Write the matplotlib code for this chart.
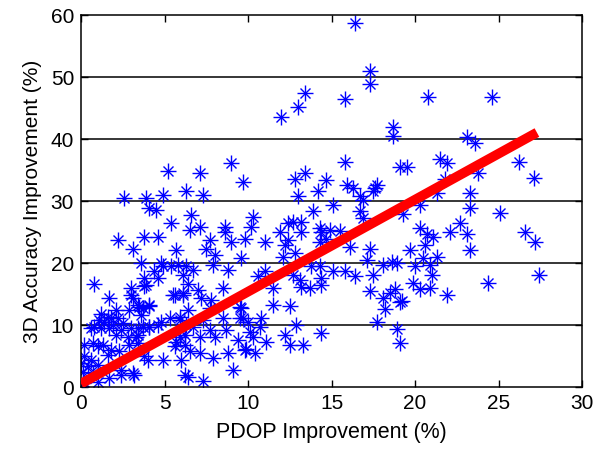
import matplotlib
matplotlib.use('Agg')
from matplotlib import pyplot as plt
import numpy as np

plt.rcParams['font.family'] = ['Liberation Sans', 'DejaVu Sans']

# PDOP improvement (%) vs 3D accuracy improvement (%)
pdop = [
    13.4, 13.0, 12.0, 5.2, 7.1, 9.0, 9.7, 12.8, 13.4, 2.6, 3.9, 4.9, 6.3, 7.3, 13.0, 14.2, 14.7,
    16.4, 17.3, 17.3, 15.8, 20.8, 18.7, 18.7, 23.1, 23.6, 15.8, 21.5, 21.9, 19.1, 19.5, 15.9,
    16.3, 17.6, 17.7, 17.5, 23.8, 23.3, 16.7, 21.8, 24.6,
    26.2, 27.1, 25.1, 26.6, 27.2, 24.4, 27.4,
    21.3, 23.3, 20.3, 19.3, 20.3, 20.7, 21.1, 20.6, 22.1, 22.7, 23.1, 23.3, 19.7, 20.5, 21.3,
    20.0, 20.9, 21.0, 19.9, 20.3, 20.9, 21.9, 19.2,
    15.1, 16.9, 16.7, 16.9, 14.4, 14.9, 15.5, 14.7, 16.1, 17.3, 17.1, 18.1, 18.6, 18.9, 15.1,
    15.8, 16.4, 17.5, 14.4, 14.4, 17.3, 18.5, 18.8, 18.1, 19.1, 18.2, 17.7, 18.9, 19.1, 14.4,
    10.3, 10.2, 9.8, 11.0, 11.9, 12.4, 12.4, 12.7, 13.2, 13.9, 13.2, 14.3, 14.3, 9.6, 12.1,
    12.8, 12.2, 11.0, 10.6, 11.5, 13.1, 13.2, 13.7, 12.7, 13.8, 14.3, 11.5, 12.5, 9.6, 9.7,
    10.0, 10.8, 10.7, 10.1, 10.3, 12.9, 12.2, 11.1, 12.5, 13.3, 9.9, 10.4,
    6.6, 5.4, 6.5, 7.1, 8.6, 8.6, 7.7, 9.0, 5.7, 7.5, 8.0, 4.9, 5.4, 5.8, 6.3, 6.7, 6.1,
    7.9, 8.8, 6.4, 8.5, 5.6, 6.1, 7.0, 7.2, 7.8, 7.7, 9.5, 6.4, 5.9, 5.3, 4.8, 7.3, 8.5,
    9.5, 6.7, 7.7, 8.7, 5.9, 7.1, 8.0, 9.4, 6.2, 5.6, 6.5, 7.1, 7.9, 8.8, 9.8, 4.9, 6.0,
    9.1, 6.4, 7.3,
    4.1, 4.5, 2.2, 3.1, 3.8, 4.6, 3.6, 4.8, 4.4, 4.6, 3.8, 3.9, 0.8, 3.5, 4.1,
    3.7, 4.1, 4.6, 3.4, 3.4, 4.0, 0.1, 1.0, 3.2, 2.4,
    1.7, 3.0, 2.1, 2.9, 1.2, 1.6, 1.8, 1.1, 1.4, 2.2, 2.5, 1.9, 0.8, 0.6, 1.2, 1.7, 2.4,
    3.0, 2.1, 2.8, 0.2, 0.7, 1.0, 1.3, 1.8, 2.3, 1.6, 2.9, 0.2, 0.6, 0.0, 0.4, 1.0, 0.1,
    0.7, 2.4, 3.1, 1.7, 0.2, 3.0,
    3.8, 5.5, 6.1, 3.4, 3.7, 4.1, 3.1, 3.6, 5.9, 3.4, 4.1, 6.3, 3.3, 5.7, 6.2, 3.8, 6.2,
]
acc3d = [
    47.4, 45.2, 43.6, 34.9, 34.5, 36.2, 33.2, 33.6, 34.5, 30.5, 30.5, 31.0, 31.6, 31.0, 30.8, 31.6, 33.4,
    58.7, 51.0, 48.9, 46.5, 46.8, 42.0, 40.6, 40.3, 39.4, 36.4, 36.8, 36.2, 35.5, 35.5, 32.7,
    32.1, 32.1, 32.7, 31.6, 34.5, 31.4, 30.8, 33.6, 46.8,
    36.4, 33.7, 28.1, 25.1, 23.5, 16.8, 18.1,
    31.4, 29.0, 29.4, 28.0, 25.7, 24.8, 24.3, 23.0, 25.1, 26.5, 24.8, 22.2, 22.2, 20.8, 21.1,
    19.6, 19.8, 18.1, 16.9, 15.8, 16.1, 14.9, 14.0,
    29.4, 30.2, 28.4, 27.3, 25.1, 25.4, 25.3, 24.0, 22.7, 22.3, 20.6, 19.8, 20.3, 20.1, 18.7,
    18.8, 18.0, 18.1, 17.6, 16.5, 15.5, 15.2, 15.8, 14.4, 13.8, 12.6, 10.6, 9.4, 7.1, 8.7,
    27.5, 25.9, 23.9, 23.5, 25.1, 23.8, 26.5, 26.7, 26.7, 28.4, 25.1, 25.7, 23.5, 20.8, 21.1,
    21.6, 23.0, 18.7, 17.9, 16.0, 17.3, 16.2, 16.1, 18.1, 19.5, 19.5, 13.3, 13.1, 12.8, 11.2,
    10.6, 11.2, 9.8, 9.0, 8.2, 10.1, 8.5, 7.4, 6.9, 6.9, 6.2, 5.5,
    27.8, 26.5, 25.4, 25.9, 25.9, 25.1, 23.8, 23.5, 22.2, 22.4, 21.4, 19.5, 19.5, 19.8, 19.6, 19.0, 18.1,
    19.8, 19.0, 16.7, 16.1, 14.9, 14.9, 15.7, 14.4, 14.1, 12.8, 13.0, 12.5, 11.4, 11.2, 10.6, 10.9, 11.2,
    11.2, 9.8, 9.3, 9.3, 8.2, 8.2, 8.2, 7.7, 6.9, 6.6, 5.8, 5.5, 4.7, 5.5, 6.0, 4.4, 4.4,
    2.8, 1.7, 1.1,
    28.9, 28.6, 23.8, 22.4, 24.2, 24.3, 20.1, 20.1, 18.7, 17.6, 17.6, 16.5, 16.7, 12.9, 13.1,
    9.8, 9.7, 10.1, 8.5, 7.1, 4.4, 0.7, 0.9, 2.0, 2.0,
    14.4, 14.9, 12.5, 12.5, 11.8, 11.4, 11.2, 10.9, 10.6, 11.2, 10.4, 10.1, 9.8, 9.5, 9.5, 9.5, 9.3,
    9.5, 8.5, 8.2, 6.9, 7.1, 6.6, 6.9, 6.0, 5.8, 5.2, 6.9, 5.0, 4.4, 3.9, 3.4, 3.6, 2.5,
    2.3, 2.8, 2.3, 1.5, 0.9, 16.0,
    16.3, 14.9, 15.2, 13.3, 12.8, 13.3, 14.4, 11.7, 10.9, 9.5, 9.8, 10.1, 8.2, 7.4, 8.5, 5.0, 2.0,
]

# least-squares fit line end points
fit_x = [0.0, 27.3]
fit_y = [0.6, 41.1]

fig = plt.figure(figsize=(6.0, 4.51), dpi=100)
ax = fig.add_axes([0.135, 0.141, 0.835, 0.825])

for y in [10, 20, 30, 40, 50]:
    ax.axhline(y, color='black', lw=1.1, zorder=1)

ax.plot(pdop, acc3d, ls='none', marker='+', ms=12, mew=1.0, color='#0000ff', zorder=2)
ax.plot(pdop, acc3d, ls='none', marker='x', ms=7.5, mew=1.0, color='#0000ff', zorder=2)
ax.plot(fit_x, fit_y, color='#ff0000', lw=7, solid_capstyle='butt', zorder=3)

ax.set_xlim(0, 30)
ax.set_ylim(0, 60)
ax.set_xticks(range(0, 31, 5))
ax.set_yticks(range(0, 61, 10))
ax.tick_params(direction='in', top=True, right=True, length=5, width=1, labelsize=15, pad=5)
for s in ax.spines.values():
    s.set_linewidth(1.1)

ax.set_xlabel('PDOP Improvement (%)', fontsize=15.5, labelpad=6)
ax.set_ylabel('3D Accuracy Improvement (%)', fontsize=15, labelpad=6)

plt.savefig('out.png', dpi=100)
